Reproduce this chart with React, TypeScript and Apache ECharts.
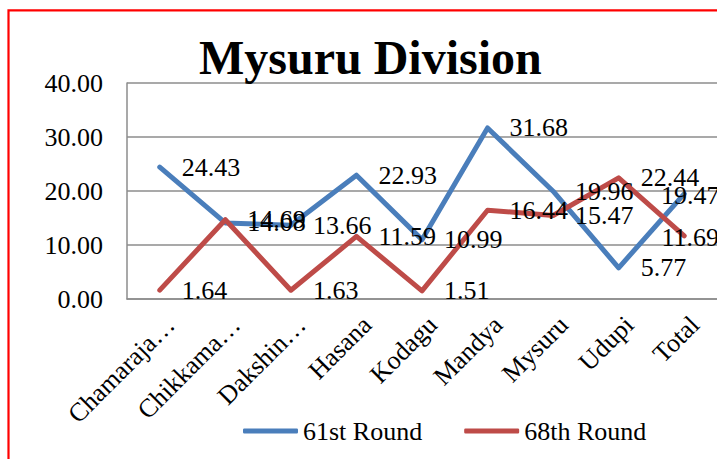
import React, { useEffect, useRef } from "react";
import * as echarts from "echarts";

const categories = ["Chamaraja…", "Chikkama…", "Dakshin…", "Hasana", "Kodagu", "Mandya", "Mysuru", "Udupi", "Total"];
const round61 = [24.43, 14.08, 13.66, 22.93, 10.99, 31.68, 19.96, 5.77, 19.47];
const round68 = [1.64, 14.69, 1.63, 11.59, 1.51, 16.44, 15.47, 22.44, 11.69];
const yTicks = { min: 0, max: 40, interval: 10 };

const FONT = "Liberation Serif";

function toData(values: number[]) {
  // Last point (Total) has its label centred on the point, as in the reference
  return values.map((v, i) =>
    i === values.length - 1
      ? { value: v, label: { position: "inside", distance: 0, offset: [6, 2] } }
      : v
  );
}

export default function App() {
  const ref = useRef<HTMLDivElement>(null);
  useEffect(() => {
    if (!ref.current) return;
    const chart = echarts.init(ref.current, null, { renderer: "svg" });
    const labelCfg = {
      show: true,
      position: "right",
      distance: 22,
      color: "#000",
      fontFamily: FONT,
      fontSize: 26,
      formatter: (p: any) => Number(p.value).toFixed(2),
    };
    chart.setOption({
      animation: false,
      backgroundColor: "#fff",
      title: {
        text: "Mysuru Division",
        left: 199,
        top: 33,
        padding: 0,
        textStyle: { fontFamily: FONT, fontSize: 48, fontWeight: "bold", color: "#000" },
      },
      legend: {
        left: 243,
        top: 418,
        padding: 0,
        itemWidth: 55,
        itemHeight: 5,
        itemGap: 42,
        icon: "roundRect",
        textStyle: { fontFamily: FONT, fontSize: 26, color: "#000" },
        data: ["61st Round", "68th Round"],
      },
      grid: { left: 127, top: 83, bottom: 160, right: -7 },
      xAxis: {
        type: "category",
        data: categories,
        boundaryGap: true,
        axisLine: { lineStyle: { color: "#8c8c8c", width: 1.5 } },
        axisTick: { show: false },
        axisLabel: {
          interval: 0,
          rotate: 45,
          margin: 11,
          lineHeight: 30,
          formatter: (v: string) => "\n" + v,
          color: "#000",
          fontFamily: FONT,
          fontSize: 26,
        },
      },
      yAxis: {
        type: "value",
        min: yTicks.min,
        max: yTicks.max,
        interval: yTicks.interval,
        axisLine: { show: true, lineStyle: { color: "#8c8c8c", width: 1.5 } },
        axisTick: { show: false },
        splitLine: { lineStyle: { color: "#8c8c8c", width: 1.5 } },
        axisLabel: {
          margin: 24,
          color: "#000",
          fontFamily: FONT,
          fontSize: 26,
          formatter: (v: number) => v.toFixed(2),
        },
      },
      series: [
        {
          name: "61st Round",
          type: "line",
          data: toData(round61),
          symbol: "circle",
          symbolSize: 0,
          showSymbol: true,
          color: "#4A7EBB",
          lineStyle: { width: 5, color: "#4A7EBB", cap: "round", join: "round" },
          label: labelCfg,
        },
        {
          name: "68th Round",
          type: "line",
          data: toData(round68),
          symbol: "circle",
          symbolSize: 0,
          showSymbol: true,
          color: "#BE4B48",
          lineStyle: { width: 5, color: "#BE4B48", cap: "round", join: "round" },
          label: labelCfg,
        },
      ],
      graphic: [
        {
          type: "rect",
          shape: { x: 8.5, y: 10.3, width: 900, height: 600 },
          style: { fill: "none", stroke: "#FF0000", lineWidth: 2.2 },
          silent: true,
          z: 100,
        },
      ],
    });
    return () => chart.dispose();
  }, []);
  return (
    <div
      ref={ref}
      style={{ position: "fixed", left: 0, top: 0, width: 717, height: 459 }}
    />
  );
}
